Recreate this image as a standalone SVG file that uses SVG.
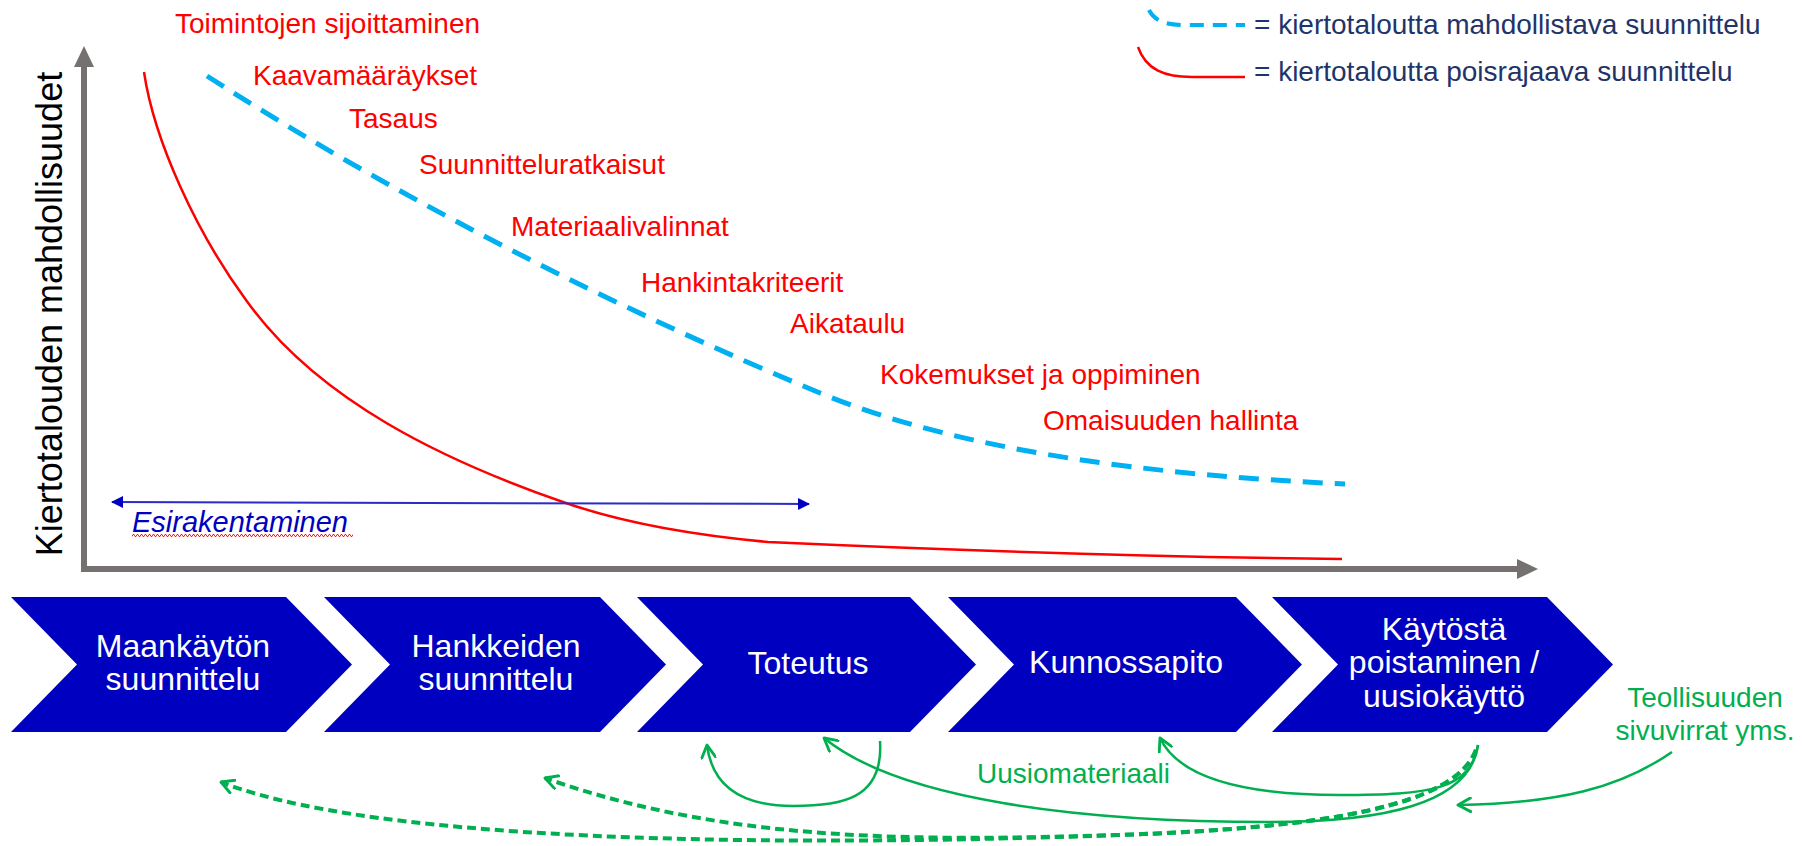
<svg xmlns="http://www.w3.org/2000/svg" width="1802" height="846" viewBox="0 0 1802 846">
  <defs>
    <style>
      text { font-family: "Liberation Sans", Arial, sans-serif; }
      .axis { fill: none; stroke: #767171; stroke-width: 6; stroke-linejoin: miter; }
      .axis-head { fill: #767171; }
      .phase { fill: #0000C0; }
      .phase-label { fill: #FFFFFF; font-size: 32px; text-anchor: middle; }
      .factor { fill: #FF0000; font-size: 28px; }
      .legend { fill: #1F3468; font-size: 28px; }
      .enabling { fill: none; stroke: #00B0F0; stroke-width: 5; stroke-dasharray: 20 12; }
      .excluding { fill: none; stroke: #FF0000; stroke-width: 2.5; }
      .flow { fill: none; stroke: #00B050; stroke-width: 2.5; marker-end: url(#open-arrow); }
      .flow-dashed { fill: none; stroke: #00B050; stroke-width: 4; stroke-dasharray: 9 5; marker-end: url(#open-arrow); }
      .flow-label { fill: #00B050; font-size: 28px; }
    </style>
    <marker id="open-arrow" viewBox="0 0 14 14" refX="12" refY="7" markerWidth="16" markerHeight="16" markerUnits="userSpaceOnUse" orient="auto">
      <path d="M1,1 L12,7 L1,13" fill="none" stroke="#00B050" stroke-width="2.5" stroke-linecap="round" stroke-linejoin="round"/>
    </marker>
    <marker id="span-head" viewBox="0 0 12 12" refX="11" refY="6" markerWidth="12" markerHeight="12" markerUnits="userSpaceOnUse" orient="auto-start-reverse">
      <path d="M0,0 L12,6 L0,12 Z" fill="#0000C0"/>
    </marker>
    <pattern id="squiggle" x="0" y="0" width="4" height="3" patternUnits="userSpaceOnUse">
      <path d="M0,2.5 L1,0.5 L2,0.5 L3,2.5 L4,2.5" fill="none" stroke="#FF0000" stroke-width="0.9"/>
    </pattern>
  </defs>

  <!-- chart axes -->
  <g id="axes">
    <polyline class="axis" points="84,66 84,569 1518,569"/>
    <polygon class="axis-head" points="84,46 74,67 94,67"/>
    <polygon class="axis-head" points="1538,569 1517,559 1517,579"/>
    <text x="62" y="314" font-size="36" fill="#000000" text-anchor="middle" transform="rotate(-90 62 314)">Kiertotalouden mahdollisuudet</text>
  </g>

  <!-- design curves -->
  <g id="curves">
    <path class="enabling" d="M207,76 C400,200 620,310 820,393 C960,451 1150,475 1345,484"/>
    <path class="excluding" d="M144,72 C154,140 196,232 246,300 C318,401 445,461 563,502 C628,525 703,536 768,542 C900,548 1100,556 1342,559"/>
  </g>

  <!-- legend -->
  <g id="legend">
    <path d="M1149,10 C1155,22 1168,25 1185,25 L1245,25" fill="none" stroke="#00B0F0" stroke-width="4" stroke-dasharray="14 9"/>
    <text class="legend" x="1254" y="34">= kiertotaloutta mahdollistava suunnittelu</text>
    <path d="M1138,47 C1146,70 1165,77 1192,77 L1245,77" fill="none" stroke="#FF0000" stroke-width="2.5"/>
    <text class="legend" x="1254" y="81">= kiertotaloutta poisrajaava suunnittelu</text>
  </g>

  <!-- decision factors along the timeline -->
  <g id="factors">
    <text class="factor" x="175" y="33">Toimintojen sijoittaminen</text>
    <text class="factor" x="253" y="85">Kaavamääräykset</text>
    <text class="factor" x="349" y="128">Tasaus</text>
    <text class="factor" x="419" y="174">Suunnitteluratkaisut</text>
    <text class="factor" x="511" y="236">Materiaalivalinnat</text>
    <text class="factor" x="641" y="292">Hankintakriteerit</text>
    <text class="factor" x="790" y="333">Aikataulu</text>
    <text class="factor" x="880" y="384">Kokemukset ja oppiminen</text>
    <text class="factor" x="1043" y="430">Omaisuuden hallinta</text>
  </g>

  <!-- early construction span -->
  <g id="esirakentaminen">
    <line x1="112" y1="502" x2="809" y2="504" stroke="#2B2BC8" stroke-width="2" marker-start="url(#span-head)" marker-end="url(#span-head)"/>
    <text x="132" y="532" font-size="29" font-style="italic" fill="#0000C0">Esirakentaminen</text>
    <rect x="132" y="534" width="221" height="3" fill="url(#squiggle)"/>
  </g>

  <!-- life-cycle phases -->
  <g id="phase-maankaytto">
    <polygon class="phase" points="11,597 286,597 352,664.5 286,732 11,732 77,664.5"/>
    <text class="phase-label" x="183" y="657">Maankäytön</text>
    <text class="phase-label" x="183" y="690">suunnittelu</text>
  </g>
  <g id="phase-hankkeet">
    <polygon class="phase" points="324,597 600,597 666,664.5 600,732 324,732 390,664.5"/>
    <text class="phase-label" x="496" y="657">Hankkeiden</text>
    <text class="phase-label" x="496" y="690">suunnittelu</text>
  </g>
  <g id="phase-toteutus">
    <polygon class="phase" points="637,597 910,597 976,664.5 910,732 637,732 703,664.5"/>
    <text class="phase-label" x="808" y="674">Toteutus</text>
  </g>
  <g id="phase-kunnossapito">
    <polygon class="phase" points="948,597 1236,597 1302,664.5 1236,732 948,732 1014,664.5"/>
    <text class="phase-label" x="1126" y="673">Kunnossapito</text>
  </g>
  <g id="phase-poisto">
    <polygon class="phase" points="1272,597 1547,597 1613,664.5 1547,732 1272,732 1338,664.5"/>
    <text class="phase-label" x="1444" y="640">Käytöstä</text>
    <text class="phase-label" x="1444" y="673">poistaminen /</text>
    <text class="phase-label" x="1444" y="707">uusiokäyttö</text>
  </g>

  <!-- material flows -->
  <g id="flows">
    <path class="flow" d="M880,741 C884,800 840,806 793,806 C740,806 712,785 707,745"/>
    <path class="flow" d="M1478,745 C1470,805 1380,822 1270,822 C1080,822 900,800 824,738"/>
    <path class="flow" d="M1478,745 C1470,790 1430,795 1340,795 C1250,795 1180,780 1160,738"/>
    <path class="flow-dashed" d="M1476,750 C1455,805 1330,828 1117,835 C900,843 400,853 221,782"/>
    <path class="flow-dashed" d="M1476,750 C1455,805 1330,828 1117,835 C900,842 720,840 545,778"/>
    <path class="flow" d="M1672,752 C1620,788 1560,803 1458,805"/>
  </g>

  <g id="flow-labels">
    <text class="flow-label" x="977" y="783">Uusiomateriaali</text>
    <text class="flow-label" x="1705" y="707" text-anchor="middle">Teollisuuden</text>
    <text class="flow-label" x="1705" y="740" text-anchor="middle">sivuvirrat yms.</text>
  </g>
</svg>
